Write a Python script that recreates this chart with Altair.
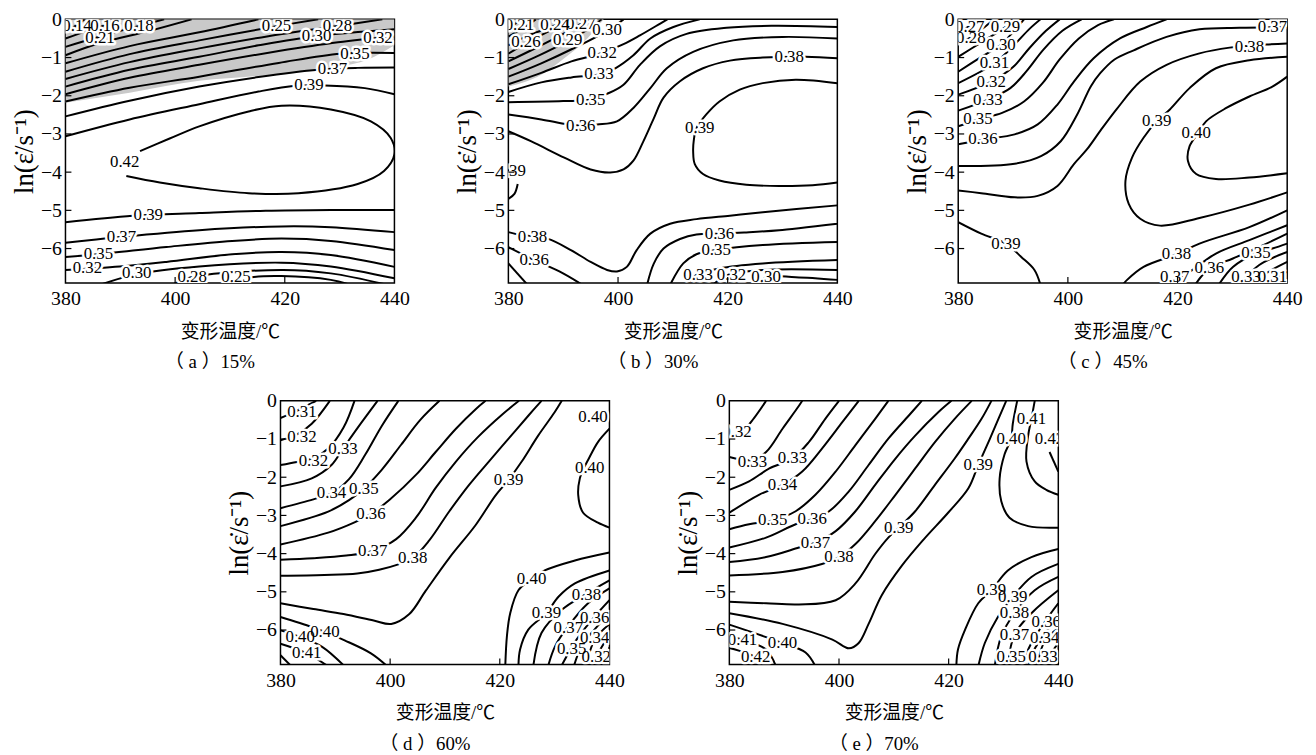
import altair as alt
import pandas as pd

FONT = "Liberation Serif, Noto Sans CJK SC"
W, H = 332, 266

X_TICKS = [380, 400, 420, 440]
Y_TICKS = [0, -1, -2, -3, -4, -5, -6]
X_TICKS_IN = [400, 420]
Y_TICKS_IN = [-1, -2, -3, -4, -5, -6]
Y_DOMAIN = [-6.9, 0]
X_DOMAIN = [380, 440]

# ---------------- panel (a) 15% ----------------
A_GRAY_T = [380, 391.7, 404.4, 415.2, 429.7, 435.1, 440]
A_GRAY_LOW = [-2.18, -1.92, -1.61, -1.48, -1.25, -1.06, -0.68]
A_LINES = [
    ("0.14", [(380, -0.30), (382.1, -0.15), (383.5, 0)]),
    ("0.16", [(380, -0.50), (384, -0.30), (387.2, -0.15), (389.5, 0)]),
    ("0.18", [(380, -0.72), (386.3, -0.45), (393.4, -0.17), (398, 0)]),
    ("0.21", [(380, -0.94), (386.3, -0.62), (395.4, -0.30), (403, 0)]),
    ("0.23", [(380, -1.15), (391.7, -0.70), (404.4, -0.34), (415.2, 0)]),
    ("0.25", [(380, -1.37), (391.7, -0.91), (404.4, -0.55), (418.5, -0.18), (426.1, 0)]),
    ("0.28", [(380, -1.56), (391.7, -1.12), (404.4, -0.76), (417, -0.44), (429.3, -0.18), (437.8, 0)]),
    ("0.30", [(380, -1.76), (391.7, -1.32), (404.4, -0.98), (415.2, -0.68), (425.7, -0.44), (440, -0.26)]),
    ("0.32", [(380, -1.96), (391.7, -1.53), (404.4, -1.19), (418.9, -0.83), (429.7, -0.60), (440, -0.44)]),
    ("0.35", [(380, -2.15), (391.7, -1.79), (404.4, -1.50), (418.9, -1.14), (430.2, -0.90), (440, -0.88)]),
    ("0.37", [(380, -2.54), (391.7, -2.13), (404.4, -1.76), (415.2, -1.51), (426.1, -1.32), (433.3, -1.27), (440, -1.26)]),
    ("0.39", [(380, -3.06), (391.7, -2.62), (404.4, -2.22), (415.2, -1.89), (421.9, -1.74), (427.3, -1.73), (434.6, -1.80), (440, -1.96)]),
    ("0.42", [(393.6, -3.45), (399, -3.12), (404.4, -2.80), (413.4, -2.41), (419.4, -2.26), (428.4, -2.36), (435.7, -2.67),
              (439.3, -3.10), (440, -3.53), (438.1, -3.97), (433.3, -4.31), (422.5, -4.55), (413.4, -4.55), (404.4, -4.42),
              (397.2, -4.27), (391.1, -4.10)]),
    ("0.39", [(380, -5.31), (392.3, -5.14), (404.4, -5.07), (416.5, -5.01), (428.4, -4.99), (440, -4.99)]),
    ("0.37", [(380, -5.85), (389.9, -5.70), (404.4, -5.52), (419.4, -5.42), (428.4, -5.44), (440, -5.57)]),
    ("0.35", [(380, -6.22), (386, -6.15), (398.4, -5.96), (410.4, -5.80), (419.4, -5.74), (428.4, -5.80), (440, -6.04)]),
    ("0.32", [(380, -6.56), (389.9, -6.47), (398.4, -6.35), (410.4, -6.15), (419.4, -6.09), (428.4, -6.17), (440, -6.48)]),
    ("0.30", [(386.3, -6.95), (393, -6.67), (404.4, -6.47), (419.4, -6.37), (428.4, -6.47), (440, -6.78)]),
    ("0.28", [(399.5, -6.95), (402.9, -6.75), (419.4, -6.56), (428.4, -6.65), (438.7, -6.95)]),
    ("0.25", [(408, -6.95), (414, -6.75), (419.4, -6.72), (428.4, -6.82), (432, -6.95)]),
]
A_LABELS = [
    ("0.14", 382.1, -0.17), ("0.16", 387.2, -0.17), ("0.18", 393.4, -0.17), ("0.21", 386.3, -0.50),
    ("0.25", 418.5, -0.17), ("0.28", 429.6, -0.17), ("0.30", 425.8, -0.43), ("0.32", 437.0, -0.48),
    ("0.35", 432.8, -0.92), ("0.37", 428.7, -1.30), ("0.39", 424.4, -1.71), ("0.42", 390.8, -3.74),
    ("0.39", 395.1, -5.11), ("0.37", 390.2, -5.70), ("0.35", 386.0, -6.15), ("0.32", 384.0, -6.52),
    ("0.30", 393.0, -6.65), ("0.28", 403.1, -6.75), ("0.25", 411.1, -6.75),
]

# ---------------- panel (b) 30% ----------------
B_GRAY_T = [380, 386, 390.2, 394.4, 397.4]
B_GRAY_LOW = [-1.76, -1.45, -1.02, -0.50, 0]
B_LINES = [
    ("0.21", [(380, -0.22), (381.2, -0.12), (382.5, 0)]),
    ("0.23", [(380, -0.45), (382.5, -0.25), (385, 0)]),
    ("0.24", [(380, -0.68), (384, -0.40), (388.5, -0.16), (390.5, 0)]),
    ("0.26", [(380, -0.90), (383.2, -0.62), (387.5, -0.30), (391.5, 0)]),
    ("0.27", [(380, -1.10), (385, -0.75), (390, -0.38), (393.2, -0.12), (394.5, 0)]),
    ("0.29", [(380, -1.30), (385.5, -0.95), (390.8, -0.57), (395, -0.22), (397, 0)]),
    ("0.30", [(380, -1.50), (386, -1.15), (392, -0.75), (398, -0.30), (401, 0)]),
    ("0.32", [(380, -1.70), (386, -1.40), (391.5, -1.10), (397.1, -0.88), (401, -0.65), (404, -0.42), (407.7, -0.11), (409, 0)]),
    ("0.33", [(380, -1.90), (386, -1.65), (391.5, -1.52), (396.5, -1.44), (399.5, -1.28), (402.8, -0.94), (405.9, -0.50),
              (410.1, -0.20), (414.9, 0)]),
    ("0.35", [(380, -2.17), (390, -2.14), (395, -2.10), (398, -1.95), (401, -1.71), (404, -1.19), (407.7, -0.70),
              (412.5, -0.38), (419.8, -0.22), (428, -0.17), (440, -0.20)]),
    ("0.36", [(380, -2.49), (386, -2.62), (390.8, -2.75), (393.2, -2.78), (396.2, -2.75), (399.8, -2.67), (402.8, -2.32),
              (405.9, -1.80), (408.9, -1.28), (413.7, -0.85), (421, -0.55), (430, -0.46), (440, -0.50)]),
    ("0.38", [(380, -2.93), (384.1, -3.19), (390.2, -3.62), (395, -3.93), (398.6, -4.01), (401, -3.93), (402.8, -3.70),
              (404.6, -3.20), (406.5, -2.60), (408.3, -2.05), (411.3, -1.62), (415.5, -1.28), (420.4, -1.08),
              (426.4, -1.00), (434.2, -0.98), (440, -1.02)]),
    ("0.39", [(440, -1.67), (432.4, -1.58), (426.4, -1.67), (422.2, -1.84), (418.5, -2.15), (416.1, -2.49), (414.3, -2.85),
              (413.8, -3.19), (413.7, -3.45), (414, -3.79), (415.5, -4.05), (418.5, -4.22), (423.4, -4.33),
              (429.4, -4.36), (435.5, -4.34), (440, -4.27)]),
    ("0.39", [(381.7, -4.31), (381.1, -4.57), (380, -4.70)]),
    ("0.38", [(380, -5.57), (381.7, -5.63), (387.1, -5.74), (391.4, -6.04), (395, -6.35), (398, -6.56), (399.8, -6.60),
              (401.6, -6.48), (403.4, -6.04), (405.9, -5.61), (409.5, -5.35), (414.3, -5.23), (420.4, -5.14),
              (426.4, -5.05), (440, -4.87)]),
    ("0.36", [(380, -5.96), (384.7, -6.30), (389.3, -6.60), (393.5, -6.95)]),
    ("0.36", [(405.3, -6.95), (406.5, -6.40), (408.3, -6.00), (411.3, -5.75), (414.3, -5.63), (418.5, -5.61), (423, -5.58),
              (429.4, -5.52), (440, -5.35)]),
    ("0.35", [(380, -6.39), (383.5, -6.95)]),
    ("0.35", [(409.5, -6.95), (411.9, -6.39), (414.3, -6.15), (417.9, -6.04), (426.4, -5.91), (440, -5.83)]),
    ("0.33", [(412.5, -6.95), (414.3, -6.69), (418.5, -6.52), (426.4, -6.39), (440, -6.30)]),
    ("0.32", [(417.3, -6.95), (420, -6.69), (426.4, -6.56), (440, -6.56)]),
    ("0.30", [(425.8, -6.95), (427, -6.75), (432.4, -6.75), (440, -6.82)]),
]
B_LABELS = [
    ("0.21", 382.0, -0.16), ("0.24", 388.5, -0.16), ("0.27", 393.2, -0.11), ("0.26", 383.2, -0.59),
    ("0.29", 390.8, -0.55), ("0.30", 398.0, -0.29), ("0.32", 397.1, -0.89), ("0.33", 396.5, -1.44),
    ("0.35", 395.0, -2.10), ("0.36", 393.2, -2.78), ("0.38", 431.2, -0.98), ("0.39", 414.9, -2.84),
    ("0.39", 380.5, -3.97), ("0.38", 384.4, -5.70), ("0.36", 384.7, -6.30), ("0.36", 418.5, -5.61),
    ("0.35", 417.9, -6.04), ("0.33", 414.6, -6.69), ("0.32", 420.7, -6.69), ("0.30", 427.0, -6.75),
]

# ---------------- panel (c) 45% ----------------
C_LINES = [
    ("0.27", [(380, -0.35), (382.1, -0.17), (383.8, 0)]),
    ("0.28", [(380, -0.63), (382.3, -0.47), (385, -0.18), (386.5, 0)]),
    ("0.29", [(380, -0.98), (384, -0.62), (388.6, -0.20), (390, 0)]),
    ("0.30", [(380, -1.37), (384, -1.00), (387.8, -0.66), (390.5, -0.25), (392, 0)]),
    ("0.31", [(380, -1.67), (386.6, -1.15), (390, -0.70), (393, -0.25), (395, 0)]),
    ("0.32", [(380, -1.97), (386, -1.63), (390, -1.25), (393, -0.75), (396, -0.30), (398.5, 0)]),
    ("0.33", [(380, -2.39), (385.4, -2.10), (389.5, -1.80), (392.5, -1.35), (395.5, -0.80), (399, -0.30), (402.5, 0)]),
    ("0.35", [(380, -2.80), (383.6, -2.62), (388, -2.45), (392, -2.15), (395.5, -1.65), (398.5, -1.05), (402, -0.50),
              (405.5, -0.15), (408.4, 0)]),
    ("0.36", [(380, -3.27), (384.8, -3.14), (390.3, -3.01), (394.5, -2.75), (398.1, -2.23), (401.1, -1.63), (404.7, -1.02),
              (409.5, -0.50), (414.4, -0.20), (418, 0)]),
    ("0.37", [(380, -3.84), (390.3, -3.78), (395.1, -3.58), (398.7, -3.19), (401.7, -2.49), (404.2, -1.75), (405.9, -1.41),
              (408.5, -1.05), (412, -0.81), (418, -0.46), (424, -0.26), (431.3, -0.22), (440, -0.20)]),
    ("0.38", [(380, -4.48), (384.2, -4.55), (390.3, -4.66), (394.5, -4.62), (398.1, -4.36), (401.1, -3.79), (403.5, -3.40),
              (406, -2.90), (408.9, -2.35), (413.2, -1.63), (418, -1.19), (424, -0.89), (429.5, -0.74), (436.1, -0.66),
              (440, -0.63)]),
    ("0.39", [(440, -0.98), (433.1, -1.07), (427, -1.28), (422.2, -1.80), (418.6, -2.36), (416.2, -2.67), (413.8, -3.10),
              (411.7, -3.62), (410.5, -4.23), (411.1, -4.83), (413.2, -5.22), (416.8, -5.40), (424, -5.20),
              (433.1, -4.85), (440, -4.53)]),
    ("0.40", [(440, -1.50), (437.3, -1.76), (433.1, -2.02), (428.9, -2.32), (425.2, -2.67), (424, -2.93), (422.2, -3.32),
              (421.9, -3.71), (423.4, -4.05), (427, -4.18), (433.1, -4.14), (440, -4.03)]),
    ("0.39", [(380, -5.31), (384.2, -5.61), (388.7, -5.87), (391.5, -6.22), (393.9, -6.56), (395, -6.95)]),
    ("0.38", [(440, -5.00), (433.1, -5.44), (424, -5.87), (419.8, -6.15), (413.8, -6.48), (410.8, -6.82), (410, -6.95)]),
    ("0.37", [(440, -5.39), (433.1, -5.78), (427, -6.13), (422.2, -6.61), (419.5, -6.82), (418.5, -6.95)]),
    ("0.36", [(440, -5.61), (434.9, -5.96), (430.1, -6.26), (425.8, -6.52), (423.2, -6.95)]),
    ("0.35", [(440, -5.87), (437.3, -6.00), (434.3, -6.13), (430.1, -6.48), (427.5, -6.95)]),
    ("0.34", [(440, -6.09), (434.9, -6.43), (431.2, -6.95)]),
    ("0.33", [(440, -6.35), (436.5, -6.62), (433.5, -6.95)]),
    ("0.32", [(440, -6.61), (438, -6.75), (436, -6.95)]),
    ("0.31", [(440, -6.82), (439, -6.95)]),
]
C_LABELS = [
    ("0.27", 382.1, -0.20), ("0.29", 388.6, -0.20), ("0.28", 382.3, -0.50), ("0.30", 387.8, -0.66),
    ("0.31", 386.6, -1.15), ("0.32", 386.0, -1.63), ("0.33", 385.4, -2.10), ("0.35", 383.6, -2.62),
    ("0.36", 384.5, -3.14), ("0.37", 437.3, -0.20), ("0.38", 433.1, -0.72), ("0.39", 416.2, -2.67),
    ("0.40", 423.4, -2.97), ("0.39", 388.7, -5.87), ("0.38", 419.8, -6.15), ("0.37", 419.5, -6.74),
    ("0.36", 425.8, -6.52), ("0.35", 434.3, -6.13), ("0.33", 432.5, -6.74), ("0.31", 437.3, -6.74),
]

# ---------------- panel (d) 60% ----------------
D_LINES = [
    ("0.31", [(380, -0.45), (382, -0.33), (384.5, -0.15), (386.5, 0)]),
    ("0.32", [(380, -1.03), (383, -0.88), (385.7, -0.60), (389, 0)]),
    ("0.32", [(380, -1.68), (383, -1.60), (386, -1.50), (388.7, -1.25), (391.5, -0.70), (393.5, 0)]),
    ("0.33", [(380, -2.24), (385.7, -2.03), (389.3, -1.68), (391.4, -1.25), (394.1, -0.70), (397.7, 0)]),
    ("0.34", [(380, -2.81), (386, -2.58), (389.3, -2.42), (392.5, -2.05), (395.5, -1.40), (398.5, -0.65), (401.5, 0)]),
    ("0.35", [(380, -3.28), (388.7, -2.90), (392.5, -2.60), (395.2, -2.30), (398.5, -1.80), (402, -1.15), (405.5, -0.50),
              (409, 0)]),
    ("0.36", [(380, -3.76), (388.7, -3.45), (393.5, -3.18), (396.5, -2.96), (399.9, -2.59), (404.7, -1.94), (408.3, -1.34),
              (412, -0.73), (415.6, -0.22), (417.4, 0)]),
    ("0.37", [(380, -4.16), (386, -4.12), (392, -4.05), (396.8, -3.93), (401.1, -3.62), (404.7, -3.06), (408.3, -2.28),
              (412, -1.59), (416, -0.95), (420.5, -0.35), (423.5, 0)]),
    ("0.38", [(380, -4.58), (388, -4.56), (394, -4.52), (398, -4.42), (401.5, -4.28), (404.1, -4.12), (407.1, -3.66),
              (410.8, -2.89), (414.4, -2.20), (418, -1.59), (421.6, -0.99), (425.2, -0.39), (427.6, 0)]),
    ("0.39", [(380, -5.30), (386, -5.45), (391.5, -5.58), (397, -5.75), (400.2, -5.84), (403.5, -5.58), (406.5, -4.97),
              (410.8, -4.11), (415.6, -3.25), (419.2, -2.48), (421.6, -2.07), (424, -1.59), (427, -0.91), (430, -0.30),
              (431.3, 0)]),
    ("0.40", [(440, -0.73), (437.9, -1.08), (436.1, -1.55), (435.2, -1.80), (434.6, -2.03), (434.3, -2.46), (435.2, -2.93),
              (437.9, -3.19), (440, -3.32)]),
    ("0.40", [(440, -3.97), (433.7, -4.18), (428.2, -4.44), (425.8, -4.66), (423.4, -4.96), (421.9, -5.56), (421.3, -6.16),
              (421, -6.95)]),
    ("0.39", [(440, -4.44), (433.7, -4.78), (430.7, -5.13), (428.5, -5.56), (425.2, -5.99), (423.7, -6.51), (423.4, -6.95)]),
    ("0.38", [(440, -4.70), (435.8, -5.05), (431.3, -5.47), (427.6, -6.08), (426.1, -6.95)]),
    ("0.37", [(440, -4.91), (436.1, -5.30), (432.5, -5.90), (430.1, -6.42), (428.8, -6.95)]),
    ("0.36", [(440, -5.22), (437.3, -5.65), (434, -6.25), (431.2, -6.95)]),
    ("0.35", [(440, -5.55), (437.5, -5.95), (435, -6.40), (433.5, -6.95)]),
    ("0.34", [(440, -5.85), (437.3, -6.25), (435.8, -6.95)]),
    ("0.33", [(440, -6.15), (438.2, -6.55), (437.6, -6.95)]),
    ("0.32", [(440, -6.45), (439, -6.95)]),
    ("0.40", [(380, -5.66), (385.7, -5.92), (388.1, -6.05), (391.7, -6.27), (396.5, -6.61), (399.5, -6.95)]),
    ("0.40", [(380, -6.01), (383.6, -6.18), (387.6, -6.44), (391.7, -6.95)]),
    ("0.41", [(380, -6.36), (384.8, -6.61), (388.7, -6.95)]),
    ("0.42", [(380, -6.66), (382, -6.95)]),
]
D_LABELS = [
    ("0.31", 383.9, -0.29), ("0.32", 383.9, -0.94), ("0.33", 391.4, -1.25), ("0.32", 386.0, -1.58),
    ("0.34", 389.3, -2.42), ("0.35", 395.2, -2.30), ("0.36", 396.5, -2.96), ("0.37", 396.8, -3.93),
    ("0.38", 404.1, -4.12), ("0.39", 421.6, -2.07), ("0.40", 437.0, -0.43), ("0.40", 436.4, -1.75),
    ("0.40", 425.8, -4.66), ("0.38", 435.8, -5.09), ("0.39", 428.5, -5.56), ("0.36", 437.3, -5.69),
    ("0.37", 432.5, -5.95), ("0.34", 437.3, -6.21), ("0.35", 433.1, -6.51), ("0.32", 437.6, -6.72),
    ("0.40", 388.1, -6.05), ("0.40", 383.6, -6.18), ("0.41", 384.8, -6.61),
]

# ---------------- panel (e) 70% ----------------
E_LINES = [
    ("0.32", [(380, -0.95), (382.4, -0.80), (384.5, -0.45), (386.7, 0)]),
    ("0.33", [(380, -1.47), (384.2, -1.55), (386.7, -1.34), (389.7, -0.73), (392.7, -0.13), (393.3, 0)]),
    ("0.33", [(380, -2.33), (383.6, -2.11), (387.3, -1.77), (391.5, -1.51), (394.5, -1.08), (397.5, -0.47), (400, 0)]),
    ("0.34", [(380, -2.93), (385.4, -2.46), (389.7, -2.20), (393.3, -1.85), (396.9, -1.25), (400.6, -0.56), (403.6, 0)]),
    ("0.35", [(380, -3.36), (383.6, -3.23), (387.9, -3.13), (392.1, -2.89), (395.7, -2.46), (399.4, -1.85), (403, -1.16),
              (406.6, -0.47), (409, 0)]),
    ("0.36", [(380, -3.84), (386.7, -3.58), (392.1, -3.23), (395.1, -3.10), (398.2, -2.89), (401.8, -2.37), (405.4, -1.68),
              (409, -0.99), (412.7, -0.39), (415.1, 0)]),
    ("0.37", [(380, -4.22), (386.7, -4.09), (392.7, -3.84), (395.7, -3.71), (399.4, -3.41), (403, -2.89), (406.6, -2.20),
              (410.3, -1.51), (413.9, -0.91), (418.1, -0.30), (420.5, 0)]),
    ("0.38", [(380, -4.57), (389.7, -4.48), (396.9, -4.27), (400, -4.09), (403, -3.75), (406.6, -3.15), (410.3, -2.46),
              (413.9, -1.77), (417.5, -1.08), (421.1, -0.47), (424.2, 0)]),
    ("0.39", [(380, -5.26), (386.7, -5.30), (392.7, -5.33), (399.4, -5.22), (403, -4.78), (406.6, -4.01), (409, -3.58),
              (410.9, -3.32), (413.9, -2.89), (417.5, -2.20), (421.1, -1.51), (423.6, -0.99), (426, -0.47), (427.8, 0)]),
    ("0.39", [(380, -5.56), (389.7, -5.84), (398.8, -6.25), (401.8, -6.48), (403.6, -6.34), (405.4, -5.84), (407.8, -5.09),
              (411.5, -4.31), (415.5, -3.62), (419.9, -2.93), (423.6, -2.29), (425.4, -1.68), (427.5, -1.00), (429, -0.50),
              (430.5, 0)]),
    ("0.40", [(432.5, 0), (431.7, -0.60), (431.4, -0.99), (430.2, -1.40), (429.3, -2.03), (429.6, -2.63), (431.1, -3.06),
              (434.5, -3.28), (440, -3.32)]),
    ("0.41", [(435.7, 0), (435.1, -0.47), (434.5, -0.91), (434.2, -1.59), (435.7, -2.11), (437.8, -2.33), (440, -2.46)]),
    ("0.42", [(438.4, -1.34), (440, -1.85)]),
    ("0.39", [(440, -3.88), (435.1, -4.09), (430.8, -4.44), (427.8, -4.96), (425.4, -5.30), (423, -5.99), (421.7, -6.51),
              (421.4, -6.95)]),
    ("0.39", [(440, -4.27), (435.1, -4.61), (431.7, -5.13), (429, -5.65), (426.6, -6.34), (425.4, -6.95)]),
    ("0.38", [(440, -4.61), (435.7, -4.96), (432, -5.56), (429.6, -6.16), (428.4, -6.95)]),
    ("0.37", [(440, -4.96), (435.1, -5.56), (432, -6.12), (430.8, -6.95)]),
    ("0.36", [(440, -5.30), (437.8, -5.73), (435.1, -6.34), (433.2, -6.95)]),
    ("0.35", [(440, -5.65), (437, -6.20), (435.3, -6.60), (434.6, -6.95)]),
    ("0.34", [(440, -5.95), (437.5, -6.30), (436.1, -6.95)]),
    ("0.33", [(440, -6.35), (438.3, -6.70), (437.8, -6.95)]),
    ("0.40", [(380, -5.86), (389.7, -6.34), (393.9, -6.59), (395.7, -6.95)]),
    ("0.41", [(380, -6.16), (382.4, -6.25), (386.7, -6.51), (388.5, -6.95)]),
    ("0.42", [(380, -6.47), (384.8, -6.72), (386, -6.95)]),
]
E_LABELS = [
    ("0.32", 381.4, -0.82), ("0.33", 384.2, -1.59), ("0.33", 391.5, -1.51), ("0.34", 389.7, -2.20),
    ("0.35", 387.9, -3.13), ("0.36", 395.1, -3.10), ("0.37", 395.7, -3.71), ("0.38", 400.0, -4.09),
    ("0.39", 410.9, -3.32), ("0.39", 425.4, -1.68), ("0.41", 435.1, -0.47), ("0.40", 431.4, -0.99),
    ("0.42", 438.4, -0.99), ("0.41", 382.4, -6.25), ("0.40", 389.7, -6.34), ("0.42", 384.8, -6.72),
    ("0.39", 427.8, -4.96), ("0.39", 431.7, -5.13), ("0.38", 432.0, -5.56), ("0.36", 437.8, -5.78),
    ("0.37", 432.0, -6.12), ("0.34", 437.5, -6.21), ("0.35", 431.4, -6.72), ("0.33", 437.2, -6.72),
]

CAPTIONS = ["（ a ）15%", "（ b ）30%", "（ c ）45%", "（ d ）60%", "（ e ）70%"]


def make_panel(lines, labels, caption, gray_t=None, gray_low=None):
    rows = []
    for i, (lvl, pts) in enumerate(lines):
        for j, (t, v) in enumerate(pts):
            rows.append({"id": i, "level": lvl, "ord": j, "T": t, "lnE": v})
    ldf = pd.DataFrame(rows)
    tdf = pd.DataFrame(labels, columns=["text", "T", "lnE"])

    x = alt.X("T:Q", scale=alt.Scale(domain=X_DOMAIN, nice=False, zero=False),
              axis=alt.Axis(values=X_TICKS, format="d", title="变形温度/℃", grid=False, domain=False,
                            tickSize=0, labelPadding=6, labelFlush=False, labelOverlap=False,
                            labelFont=FONT, labelFontSize=20, labelColor="black",
                            titleFont=FONT, titleFontSize=19, titleFontWeight="normal",
                            titleColor="black", titlePadding=14))
    y = alt.Y("lnE:Q", scale=alt.Scale(domain=Y_DOMAIN, nice=False, zero=False),
              axis=alt.Axis(values=Y_TICKS, format="d", title="ln(ε̇/s⁻¹)", grid=False, domain=False,
                            tickSize=0, labelPadding=4, labelFlush=False, labelOverlap=False,
                            labelFont=FONT, labelFontSize=20, labelColor="black",
                            titleFont=FONT, titleFontSize=27, titleFontWeight="normal",
                            titleColor="black", titlePadding=2))

    layers = []
    if gray_t is not None:
        gdf = pd.DataFrame({"T": gray_t, "lnE": gray_low, "top": [0.0] * len(gray_t)})
        layers.append(alt.Chart(gdf).mark_area(color="#c9c9c9", clip=True, interpolate="monotone").encode(
            x=x, y=y, y2="top:Q"))
    layers.append(alt.Chart(ldf).mark_line(color="black", strokeWidth=2, clip=True,
                                           interpolate="catmull-rom").encode(
        x=x, y=y, detail="id:N", order="ord:Q"))
    layers.append(alt.Chart(tdf).mark_text(font=FONT, fontSize=17, color="white", stroke="white",
                                           strokeWidth=5, strokeJoin="round", clip=True).encode(
        x=x, y=y, text="text:N"))
    layers.append(alt.Chart(tdf).mark_text(font=FONT, fontSize=17, color="black", clip=True).encode(
        x=x, y=y, text="text:N"))
    layers.append(alt.Chart(pd.DataFrame({"lnE": Y_TICKS_IN})).mark_rule(color="black", strokeWidth=1.2).encode(
        y=y, x=alt.value(0), x2=alt.value(6)))
    layers.append(alt.Chart(pd.DataFrame({"T": X_TICKS_IN})).mark_rule(color="black", strokeWidth=1.2).encode(
        x=x, y=alt.value(H), y2=alt.value(H - 6)))

    return alt.layer(*layers).properties(
        width=W, height=H,
        title=alt.TitleParams(text=caption, orient="bottom", font=FONT, fontSize=19, fontWeight="normal",
                              color="black", offset=12, anchor="middle", frame="bounds"))


pa = make_panel(A_LINES, A_LABELS, CAPTIONS[0], A_GRAY_T, A_GRAY_LOW)
pb = make_panel(B_LINES, B_LABELS, CAPTIONS[1], B_GRAY_T, B_GRAY_LOW)
pc = make_panel(C_LINES, C_LABELS, CAPTIONS[2])
pd_ = make_panel(D_LINES, D_LABELS, CAPTIONS[3])
pe = make_panel(E_LINES, E_LABELS, CAPTIONS[4])

spacer = alt.Chart(pd.DataFrame({"v": [0]})).mark_point(opacity=0).encode(
    x=alt.X("v:Q", axis=None), y=alt.Y("v:Q", axis=None)
).properties(width=112, height=H, view=alt.ViewBackground(stroke="white", strokeWidth=0))

top = alt.hconcat(alt.hconcat(pa, pb, spacing=42), pc, spacing=49)
bottom = alt.hconcat(spacer, pd_, pe, spacing=48)

chart = alt.vconcat(top, bottom, spacing=17).configure_view(
    stroke="black", strokeWidth=1.5
).properties(padding={"left": 1, "top": -3, "right": 5, "bottom": 0}, background="white")

chart.save("out.html", embed_options={"renderer": "svg", "actions": False})
